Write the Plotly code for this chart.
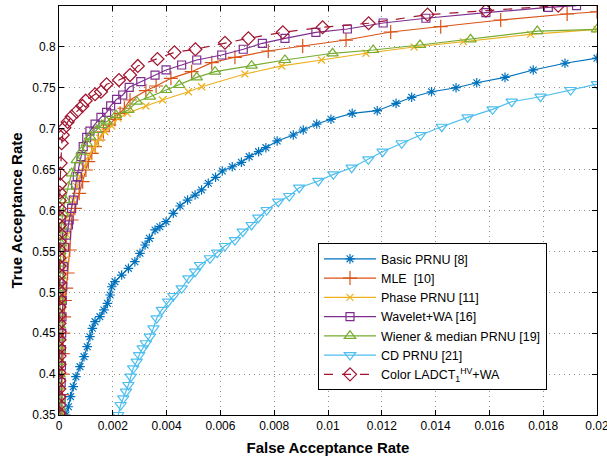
import plotly.graph_objects as go

# ---------------- data ----------------
basic_x = [0.00026, 0.00035, 0.00043, 0.00053, 0.00063, 0.00078, 0.00093, 0.00105, 0.00115, 0.00124,
           0.00134, 0.00152, 0.00167, 0.0018, 0.0019, 0.00196, 0.00208, 0.00233, 0.00258, 0.00282,
           0.00301, 0.0032, 0.00336, 0.00357, 0.00375, 0.00398, 0.00425, 0.0045, 0.00478, 0.00506,
           0.0053, 0.00555, 0.00582, 0.00607, 0.00644, 0.00678, 0.00707, 0.00742, 0.00769, 0.00811,
           0.00871, 0.00908, 0.00958, 0.01011, 0.0109, 0.01183, 0.01253, 0.01311, 0.01385, 0.01476,
           0.01553, 0.01658, 0.01763, 0.01881, 0.02]
basic_y = [0.35, 0.3601, 0.3724, 0.3846, 0.3968, 0.4091, 0.4213, 0.4335, 0.4457, 0.456,
           0.4641, 0.4702, 0.4784, 0.4865, 0.4967, 0.5068, 0.513, 0.5211, 0.5293, 0.5374,
           0.5477, 0.5578, 0.566, 0.5762, 0.5802, 0.5863, 0.5966, 0.6055, 0.6128, 0.6189,
           0.6251, 0.6333, 0.6406, 0.6483, 0.6535, 0.6589, 0.6658, 0.6719, 0.6768, 0.685,
           0.6923, 0.6984, 0.7057, 0.7115, 0.7188, 0.722, 0.731, 0.7384, 0.7452, 0.7501,
           0.7562, 0.7628, 0.7718, 0.78, 0.7862]

mle_x = [0.0001, 0.00011, 0.00012, 0.00014, 0.00016, 0.00019, 0.00022, 0.00027, 0.00032, 0.0004,
         0.00047, 0.00059, 0.00075, 0.00088,
         0.001, 0.00109, 0.00122, 0.00134, 0.00146, 0.00165, 0.00187, 0.00208, 0.00227, 0.00243,
         0.00264, 0.00323, 0.00361, 0.00416, 0.00493, 0.00568, 0.00654, 0.00778, 0.00906, 0.01067,
         0.01233, 0.01419, 0.01642, 0.01889, 0.02]
mle_y = [0.35, 0.375, 0.40, 0.425, 0.45, 0.47, 0.49, 0.505, 0.5236, 0.5517,
         0.5884, 0.6027, 0.621, 0.6352,
         0.6495, 0.6597, 0.6699, 0.678, 0.6862, 0.6963, 0.7045, 0.7115, 0.7188, 0.725,
         0.7351, 0.7465, 0.7522, 0.7616, 0.7697, 0.7807, 0.7873, 0.795, 0.8011, 0.8084,
         0.8182, 0.8247, 0.8329, 0.8402, 0.843]

phase_x = [0.0001, 0.00012, 0.00016, 0.00022, 0.0003, 0.0004, 0.00053, 0.00066, 0.00078, 0.00093,
           0.00109, 0.00127, 0.0014, 0.00152, 0.00171, 0.00196, 0.0022, 0.00254, 0.00323, 0.00385,
           0.00481, 0.0053, 0.00691, 0.00828, 0.00976, 0.01141, 0.0132, 0.01503, 0.01753, 0.02]
phase_y = [0.35, 0.43, 0.49, 0.54, 0.57, 0.5945, 0.6128, 0.6291, 0.6413, 0.6535,
           0.6658, 0.6748, 0.6822, 0.6883, 0.6963, 0.7033, 0.7127, 0.7188, 0.7278, 0.7351,
           0.7452, 0.7513, 0.7669, 0.7767, 0.784, 0.7922, 0.7999, 0.8064, 0.8154, 0.8215]

wave_x = [0.00007, 0.00008, 0.00008, 0.00009, 0.00009, 0.0001, 0.00011, 0.00012, 0.00014, 0.00016,
          0.0002, 0.00028, 0.00035, 0.00038, 0.00047, 0.00053, 0.00062, 0.00068, 0.00074, 0.00082,
          0.0009, 0.00103, 0.00115, 0.00134, 0.00156, 0.00177, 0.00192, 0.00214, 0.00237, 0.00261,
          0.00304, 0.00357, 0.00398, 0.00456, 0.00512, 0.00605, 0.00685, 0.00756, 0.0084, 0.00955,
          0.01072, 0.01205, 0.01364, 0.01587, 0.01819, 0.01924]
wave_y = [0.35, 0.37, 0.39, 0.41, 0.43, 0.45, 0.47, 0.49, 0.5068, 0.5313,
          0.555, 0.57, 0.5823, 0.5884, 0.6027, 0.6128, 0.6312, 0.6413, 0.6535, 0.6658,
          0.678, 0.6895, 0.6971, 0.7057, 0.7139, 0.72, 0.7278, 0.7359, 0.7412, 0.7506,
          0.7575, 0.7656, 0.7718, 0.7779, 0.784, 0.7901, 0.7971, 0.8044, 0.8105, 0.8178,
          0.8219, 0.8292, 0.835, 0.8418, 0.8484, 0.8504]

wiener_x = [0.00002, 0.00002, 0.00002, 0.00002, 0.00002, 0.00003, 0.00003, 0.00003, 0.00003, 0.00003,
            0.00004, 0.00004, 0.00004, 0.00005, 0.00005, 0.00006, 0.00007,
            0.00009, 0.00014, 0.00022, 0.00035, 0.00047, 0.00066, 0.00084, 0.00103, 0.00115, 0.0014,
            0.00159, 0.00177, 0.00212, 0.00258, 0.00289, 0.00338, 0.00398, 0.00447, 0.00512, 0.0058,
            0.00716, 0.0084, 0.01017, 0.01168, 0.01342, 0.0153, 0.01778, 0.02]
wiener_y = [0.35, 0.36, 0.37, 0.385, 0.40, 0.415, 0.43, 0.445, 0.46, 0.475,
            0.49, 0.505, 0.52, 0.535, 0.55, 0.56, 0.57,
            0.5802, 0.5966, 0.6128, 0.6291, 0.6455, 0.6617, 0.6719, 0.6822, 0.6902, 0.6984,
            0.7045, 0.7086, 0.7167, 0.7229, 0.733, 0.7391, 0.7473, 0.7534, 0.7628, 0.7697,
            0.777, 0.784, 0.7922, 0.7962, 0.8023, 0.8093, 0.8194, 0.8215]

cd_x = [0.0022, 0.00229, 0.00239, 0.00249, 0.00258, 0.00267, 0.00276, 0.00289, 0.00298, 0.00311,
        0.00323, 0.00338, 0.00351, 0.00363, 0.00382, 0.00406, 0.00425, 0.00456, 0.00481, 0.00506,
        0.00524, 0.00561, 0.00588, 0.00617, 0.00654, 0.00683, 0.00716, 0.00741, 0.00772, 0.00815,
        0.00856, 0.00893, 0.00964, 0.0102, 0.01088, 0.0115, 0.01203, 0.01274, 0.01344, 0.01423,
        0.01519, 0.01612, 0.01683, 0.0179, 0.01902, 0.02]
cd_y = [0.35, 0.3622, 0.3704, 0.3785, 0.3867, 0.3968, 0.4071, 0.4152, 0.4233, 0.4315,
        0.4377, 0.4457, 0.456, 0.4682, 0.4784, 0.4885, 0.4955, 0.5049, 0.5171, 0.5252,
        0.5334, 0.5416, 0.5484, 0.5566, 0.5639, 0.5741, 0.5823, 0.5912, 0.6006, 0.6108,
        0.6177, 0.6279, 0.6361, 0.6442, 0.6523, 0.6626, 0.6719, 0.6822, 0.6923, 0.7024,
        0.7139, 0.7237, 0.733, 0.7391, 0.7473, 0.7546]

ladct_x = [0.00001, 0.00001, 0.00001, 0.00001, 0.00001, 0.00001, 0.00002, 0.00002, 0.00002, 0.00002,
           0.00002, 0.00002, 0.00002, 0.00002, 0.00002, 0.00002, 0.00002, 0.00002, 0.00002, 0.00002,
           0.00002, 0.00002, 0.00003, 0.00003, 0.00003, 0.00003, 0.00003, 0.00003, 0.00004, 0.00005,
           0.00006, 0.0001, 0.00014, 0.0002, 0.00032, 0.00047, 0.00066, 0.00087, 0.00099, 0.00134,
           0.00156, 0.00177, 0.00223, 0.00264, 0.00293, 0.00366, 0.00429, 0.00507, 0.00617, 0.00704,
           0.00832, 0.0098, 0.01151, 0.0137, 0.01587, 0.01856]
ladct_y = [0.352, 0.362, 0.372, 0.382, 0.392, 0.402, 0.412, 0.422, 0.432, 0.442,
           0.452, 0.462, 0.472, 0.482, 0.492, 0.502, 0.512, 0.522, 0.532, 0.542,
           0.552, 0.562, 0.572, 0.582, 0.592, 0.602, 0.612, 0.622, 0.632, 0.645,
           0.658, 0.6822, 0.6923, 0.7012, 0.7082, 0.7147, 0.7208, 0.7278, 0.7342, 0.7421,
           0.7452, 0.7543, 0.7595, 0.7656, 0.7767, 0.7852, 0.7934, 0.7971, 0.8051, 0.8105,
           0.8178, 0.824, 0.8289, 0.8394, 0.8443, 0.8504]

x_ticks = [0, 0.002, 0.004, 0.006, 0.008, 0.01, 0.012, 0.014, 0.016, 0.018, 0.02]
x_labels = ["0", "0.002", "0.004", "0.006", "0.008", "0.01", "0.012", "0.014", "0.016", "0.018", "0.02"]
y_ticks = [0.35, 0.4, 0.45, 0.5, 0.55, 0.6, 0.65, 0.7, 0.75, 0.8]
y_labels = ["0.35", "0.4", "0.45", "0.5", "0.55", "0.6", "0.65", "0.7", "0.75", "0.8"]

series = [
    ("Basic PRNU [8]", basic_x, basic_y, "#0072BD", "asterisk-open", 8, "solid"),
    ("MLE  [10]", mle_x, mle_y, "#D95319", "cross-thin-open", 10, "solid"),
    ("Phase PRNU [11]", phase_x, phase_y, "#EDB120", "x-thin-open", 7, "solid"),
    ("Wavelet+WA [16]", wave_x, wave_y, "#7E2F8E", "square-open", 8, "solid"),
    ("Wiener &amp; median PRNU [19]", wiener_x, wiener_y, "#77AC30", "triangle-up-open", 10, "solid"),
    ("CD PRNU [21]", cd_x, cd_y, "#4DBEEE", "triangle-down-open", 10, "solid"),
    ("Color LADCT<sub>1</sub><sup>HV</sup>+WA", ladct_x, ladct_y, "#A2142F", "diamond-open", 10, "dash"),
]

fig = go.Figure()
for name, xs, ys, col, sym, sz, dash in series:
    fig.add_trace(go.Scatter(
        x=xs, y=ys, name=name, mode="lines+markers",
        line=dict(color=col, width=1.2, dash=dash),
        marker=dict(symbol=sym, size=sz, color=col, line=dict(color=col, width=1.2)),
    ))

axis_common = dict(
    showline=True, linecolor="black", linewidth=1, mirror="ticks",
    ticks="inside", ticklen=5, tickcolor="black",
    showgrid=True, gridcolor="#8c8c8c", griddash="1px,4px", gridwidth=1,
    zeroline=False, tickfont=dict(size=12, color="black"), automargin=False,
    ticklabeloverflow="allow",
)

fig.update_layout(
    width=607, height=461,
    margin=dict(l=59, r=10, t=6, b=46),
    paper_bgcolor="white", plot_bgcolor="white",
    font=dict(family="Liberation Sans, Arial, sans-serif", size=12, color="black"),
    showlegend=True,
    legend=dict(x=0.4814, y=0.42, xanchor="left", yanchor="top",
                bgcolor="white", bordercolor="black", borderwidth=1,
                font=dict(size=12.5), tracegroupgap=0, itemwidth=52),
)
fig.update_xaxes(range=[0, 0.0200001], tickvals=x_ticks, ticktext=x_labels,
                 title=dict(text="<b>False Acceptance Rate</b>", font=dict(size=15), standoff=10),
                 **axis_common)
fig.update_yaxes(range=[0.35, 0.85], tickvals=y_ticks, ticktext=y_labels,
                 title=dict(text="<b>True Acceptance Rate</b>", font=dict(size=15), standoff=5),
                 **axis_common)

fig.write_html("out.html", config={"displayModeBar": False},
               post_script="document.body.style.margin='0';document.body.style.overflow='hidden';")
